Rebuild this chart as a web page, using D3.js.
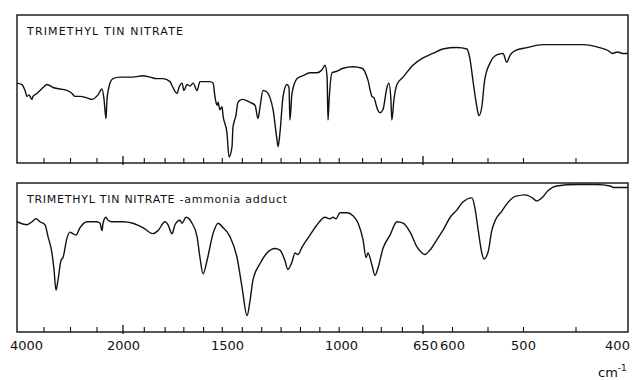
<!DOCTYPE html>
<html>
<head>
<meta charset="utf-8">
<script src="https://cdn.jsdelivr.net/npm/d3@7"></script>
<style>
  body { margin: 0; background: #fff; }
  svg text { font-family: "DejaVu Sans", sans-serif; fill: #111; }
</style>
</head>
<body>
<div id="chart"></div>
<script>
// wavenumber (cm-1) and % transmittance
const topWn = [4000,3906,3849,3811,3774,3717,3698,3623,3509,3434,3321,3057,2962,2906,2811,2679,2585,2472,2396,2358,2321,2302,2245,2189,2057,
  1981,1952,1904,1870,1837,1808,1774,1760,1740,1731,1716,1707,1692,1678,1663,1644,1630,1606,1582,1567,1558,1548,1543,1534,1524,1519,1500,
  1491,1478,1474,1461,1452,1434,1412,1399,1377,1364,1355,1342,1325,1311,1298,1281,1276,1268,1254,1237,1228,1224,1215,1193,1167,1136,1105,
  1083,1070,1061,1057,1052,1039,1018,991,949,910,885,868,859,846,834,821,804,796,787,783,774,761,735,693,650,633,616,593,579,575,570,565,
  562,558,554,546,537,528,523,518,511,496,481,462,443,427,419,415,410,405,400];
const topT = [54,53,49,45,46,43,45,47,51,53,51,49,47,45,45,44,43,46,50,43,30,43,54,57,58,
  58,58,59,58,57,57,55,51,47,51,54,49,53,52,54,49,55,55,55,54,45,39,41,36,38,32,20,
  4,11,24,32,41,43,42,41,39,30,38,49,48,44,36,16,11,20,45,53,51,29,47,57,59,61,61,
  63,66,58,29,43,61,62,64,65,64,56,45,44,37,34,36,51,54,43,29,43,53,58,66,71,74,77,78,77,71,54,38,
  32,38,56,68,73,74,68,73,76,78,80,80,80,78,76,74,75,74,74];

const botWn = [4000,3811,3717,3642,3566,3472,3415,3340,3302,3264,3226,3170,3132,3057,3000,2943,2887,2811,2679,2491,2434,2396,2377,2321,2283,
  2208,2000,1952,1904,1856,1832,1798,1784,1764,1750,1726,1716,1697,1668,1644,1630,1615,1596,1567,1543,1519,1487,1456,1434,1412,1399,1386,
  1355,1325,1289,1268,1246,1233,1215,1202,1189,1171,1136,1105,1070,1048,1035,1022,1004,974,949,927,906,893,885,868,855,842,821,791,761,
  735,705,675,654,647,638,626,616,603,593,585,572,568,563,558,555,549,544,539,530,521,511,498,491,487,482,476,468,449,430,417,414,408,400];
const botT = [74,72,74,76,74,72,64,53,42,28,35,48,50,63,67,66,65,70,74,74,73,68,73,77,75,
  74,74,73,70,66,68,74,72,66,72,75,73,77,73,64,50,39,48,66,73,70,64,50,30,11,21,35,
  46,53,56,55,48,42,47,53,52,57,65,72,77,76,77,76,80,80,78,73,62,50,53,45,38,43,56,65,74,
  73,67,57,53,52,55,62,68,77,82,87,90,84,68,53,49,54,68,75,81,87,91,92,90,88,90,95,98,99,99,98,97,97,97];

const titles = ["TRIMETHYL TIN NITRATE", "TRIMETHYL TIN NITRATE -ammonia adduct"];
const labelValues = [4000, 2000, 1500, 1000, 650, 600, 500, 400];
const tickValues = [3500,3000,2500,1900,1800,1710,1615,1525,1435,1350,1265,1180,1095,1010,910,830,740,600,550,500,450];
const breakValues = [2000, 650];

const width = 632, height = 380;
const panels = [
  { top: 15, bottom: 163, titleLen: 156, wn: topWn, t: topT },
  { top: 183, bottom: 332, titleLen: 260, wn: botWn, t: botT }
];

const svg = d3.select('#chart').append('svg')
  .attr('width', width)
  .attr('height', height);

// the paper changes scale at 2000 and 650 cm-1
const x = d3.scaleLinear()
  .domain([4000, 2000, 1500, 1000, 650, 600, 500, 400])
  .range([17, 123, 227, 341, 423, 452, 523, 628]);

panels.forEach((p, i) => {
  const y = d3.scaleLinear().domain([0, 100]).range([p.bottom, p.top]);
  const g = svg.append('g');

  g.append('rect')
    .attr('x', x(4000)).attr('y', p.top)
    .attr('width', x(400) - x(4000)).attr('height', p.bottom - p.top)
    .attr('fill', 'none').attr('stroke', '#111').attr('stroke-width', 1.4);

  g.append('g')
    .attr('transform', 'translate(0,' + p.bottom + ')')
    .call(d3.axisTop(x).tickValues(tickValues).tickSize(5).tickFormat(''))
    .call(a => a.select('.domain').remove())
    .selectAll('line').attr('stroke', '#111').attr('stroke-width', 1.1);

  g.selectAll('.brk')
    .data(breakValues)
    .enter().append('line')
    .attr('x1', d => x(d)).attr('x2', d => x(d))
    .attr('y1', p.bottom - 7).attr('y2', p.bottom + 2)
    .attr('stroke', '#111').attr('stroke-width', 1.3);

  g.append('text')
    .attr('x', 27).attr('y', p.top + 20)
    .attr('font-size', 11)
    .attr('textLength', p.titleLen)
    .attr('lengthAdjust', 'spacing')
    .text(titles[i]);

  const pts = p.wn.map((w, k) => [w, p.t[k]]);
  const line = d3.line()
    .x(d => x(d[0]))
    .y(d => y(d[1]))
    .curve(d3.curveMonotoneX);

  g.append('path')
    .datum(pts)
    .attr('d', line)
    .attr('fill', 'none')
    .attr('stroke', '#111')
    .attr('stroke-width', 1.4)
    .attr('stroke-linejoin', 'round');
});

// wavenumber labels under the lower panel
const lab = svg.append('g')
  .attr('transform', 'translate(0,' + panels[1].bottom + ')')
  .call(d3.axisBottom(x).tickValues(labelValues).tickSize(0).tickPadding(9).tickFormat(d3.format('d')));
lab.select('.domain').remove();
lab.selectAll('text')
  .attr('font-size', 13)
  .attr('font-family', '"DejaVu Sans", sans-serif')
  .attr('fill', '#111')
  .attr('dx', d => d === 4000 ? 9 : d === 400 ? -11 : d === 650 ? 2 : 0);

const unit = svg.append('text')
  .attr('x', 598).attr('y', 377)
  .attr('font-size', 13);
unit.append('tspan').text('cm');
unit.append('tspan').attr('font-size', 9).attr('dy', -6).text('-1');
</script>
</body>
</html>
